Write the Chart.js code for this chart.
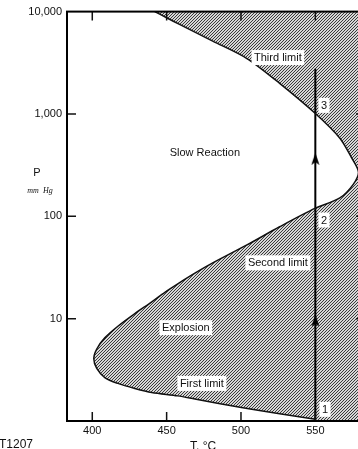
<!DOCTYPE html>
<html lang="en">
<head>
<meta charset="UTF-8">
<title>Explosion limits</title>
<script src="https://cdn.jsdelivr.net/npm/chart.js"></script>
<style>
  html, body { margin: 0; padding: 0; background: #fff; overflow: hidden; }
  #wrap { position: absolute; left: 0; top: 0; width: 400px; height: 449px; }
</style>
</head>
<body>
<div id="wrap"><canvas id="limits"></canvas></div>
<script>
// explosion boundary, traced from the top (third limit) round to the bottom (first limit)
const boundaryT = [442, 450, 459, 481, 504, 526, 550, 566.5, 574.5, 579, 575.5, 566.5, 550, 526, 504, 481, 469, 457.5, 448.8, 440, 428.6, 417.2, 408.4, 403, 401, 403, 408.4, 417.2, 428.6, 440, 457.5, 469, 499.3, 526, 550];
const boundaryP = [10000, 8700, 7450, 5150, 3480, 1990, 1010, 580, 370, 270, 205, 151, 120, 79, 52.5, 35, 27.8, 21.9, 18.1, 14.6, 11.2, 8.43, 6.49, 5.05, 4.08, 3.26, 2.66, 2.33, 2.08, 1.9, 1.76, 1.64, 1.36, 1.175, 1.04];

// heating path at 550 degrees and its arrow heads
const pathT = [550, 550];
const pathP = [1, 2770];
const arrowT = [550, 550];
const arrowP = [9.6, 365];

const xTicks = [400, 450, 500, 550];
const yTicks = [10, 100, 1000, 10000];

const noteText = ['Third limit', '3', 'Slow Reaction', '2', 'Second limit', 'Explosion', 'First limit', '1'];
const noteT = [524.8, 555.8, 475.7, 555.8, 524.8, 462.9, 473.7, 556.5];
const noteP = [3556, 1213, 423, 92, 35.1, 8.17, 2.33, 1.3];
const noteBox = [true, true, false, true, true, true, true, true];

const FONT = '"Liberation Sans", Arial, Helvetica, sans-serif';

// fine diagonal hatch for the explosion region
const hatch = document.createElement('canvas');
hatch.width = 3; hatch.height = 3;
const hctx = hatch.getContext('2d');
hctx.fillStyle = '#d6d6d6'; hctx.fillRect(0, 0, 3, 3);
hctx.fillStyle = '#3a3a3a';
hctx.fillRect(0, 2, 1, 1); hctx.fillRect(1, 1, 1, 1); hctx.fillRect(2, 0, 1, 1);

// slim arrow head used as point style
const arrow = document.createElement('canvas');
arrow.width = 9; arrow.height = 12;
const actx = arrow.getContext('2d');
actx.fillStyle = '#000';
actx.beginPath();
actx.moveTo(4.5, 0); actx.lineTo(8.5, 12); actx.lineTo(4.5, 9.5); actx.lineTo(0.5, 12);
actx.closePath(); actx.fill();

const diagram = {
  id: 'diagram',
  beforeDatasetsDraw(chart) {
    const { ctx, chartArea: a } = chart;
    const line = chart.getDatasetMeta(0).dataset;
    const pts = line.points;
    const first = pts[0], last = pts[pts.length - 1];
    ctx.save();
    ctx.beginPath();
    ctx.rect(a.left, a.top, a.right - a.left, a.bottom - a.top);
    ctx.clip();
    ctx.beginPath();
    line.path(ctx);
    ctx.lineTo(last.x, a.bottom + 4);
    ctx.lineTo(a.right + 4, a.bottom + 4);
    ctx.lineTo(a.right + 4, a.top - 4);
    ctx.lineTo(first.x, a.top - 4);
    ctx.closePath();
    ctx.fillStyle = ctx.createPattern(hatch, 'repeat');
    ctx.fill();
    ctx.restore();
  },
  afterDatasetsDraw(chart) {
    const { ctx, chartArea: a } = chart;
    const x = chart.scales.x, y = chart.scales.y;
    ctx.save();
    // inward tick marks on all four sides
    ctx.strokeStyle = '#111';
    ctx.lineWidth = 1.5;
    ctx.beginPath();
    xTicks.forEach(v => {
      const px = x.getPixelForValue(v);
      ctx.moveTo(px, a.bottom); ctx.lineTo(px, a.bottom - 9);
      ctx.moveTo(px, a.top); ctx.lineTo(px, a.top + 9);
    });
    yTicks.slice(0, 3).forEach(v => {
      const py = y.getPixelForValue(v);
      ctx.moveTo(a.left, py); ctx.lineTo(a.left + 9, py);
      ctx.moveTo(a.right, py); ctx.lineTo(a.right - 9, py);
    });
    ctx.stroke();
    ctx.lineWidth = 2;
    ctx.strokeStyle = '#000';
    ctx.strokeRect(a.left, a.top, a.right - a.left, a.bottom - a.top);

    // region and limit labels
    ctx.font = '11px ' + FONT;
    ctx.textAlign = 'center';
    ctx.textBaseline = 'middle';
    noteText.forEach((t, i) => {
      const px = x.getPixelForValue(noteT[i]);
      const py = y.getPixelForValue(noteP[i]);
      const w = ctx.measureText(t).width + 5;
      if (noteBox[i]) {
        ctx.fillStyle = '#fff';
        ctx.fillRect(px - w / 2, py - 7.5, w, 15);
      }
      ctx.fillStyle = '#111';
      ctx.fillText(t, px, py + 0.5);
    });

    // axis titles and figure code
    ctx.font = '11px ' + FONT;
    ctx.fillText('P', 37, 173);
    ctx.font = 'italic 8px "Liberation Serif", "Times New Roman", serif';
    ctx.fillText('mm  Hg', 40, 191);
    ctx.font = '12px ' + FONT;
    ctx.textAlign = 'left';
    ctx.fillText('T, \u00b0C', 190, 447);
    ctx.fillText('T1207', -1, 445);
    ctx.restore();
  }
};

new Chart(document.getElementById('limits'), {
  type: 'scatter',
  data: {
    datasets: [
      {
        data: boundaryT.map((t, i) => ({ x: t, y: boundaryP[i] })),
        showLine: true,
        borderColor: '#111',
        borderWidth: 1.5,
        pointRadius: 0,
        tension: 0.3,
        fill: false
      },
      {
        data: pathT.map((t, i) => ({ x: t, y: pathP[i] })),
        showLine: true,
        borderColor: '#000',
        borderWidth: 2,
        pointRadius: 0
      },
      {
        data: arrowT.map((t, i) => ({ x: t, y: arrowP[i] })),
        showLine: false,
        pointStyle: arrow,
        pointRadius: 6
      }
    ]
  },
  options: {
    responsive: true,
    maintainAspectRatio: false,
    animation: false,
    events: [],
    layout: { padding: { top: 10, right: 35, left: 0, bottom: 0 } },
    plugins: { legend: { display: false }, tooltip: { enabled: false } },
    scales: {
      x: {
        type: 'linear',
        min: 383,
        max: 583.4,
        afterBuildTicks: s => { s.ticks = xTicks.map(v => ({ value: v })); },
        afterFit: s => { s.height = 28; },
        grid: { display: false, drawTicks: false },
        border: { display: false },
        ticks: { padding: 3, autoSkip: false, maxRotation: 0, color: '#111', font: { size: 11, family: FONT } }
      },
      y: {
        type: 'logarithmic',
        min: 1,
        max: 10000,
        afterBuildTicks: s => { s.ticks = yTicks.map(v => ({ value: v })); },
        afterFit: s => { s.width = 67; },
        grid: { display: false, drawTicks: false },
        border: { display: false },
        ticks: { padding: 5, autoSkip: false, color: '#111', font: { size: 11, family: FONT },
          callback: v => Number(v).toLocaleString('en-US') }
      }
    }
  },
  plugins: [diagram]
});
</script>
</body>
</html>
